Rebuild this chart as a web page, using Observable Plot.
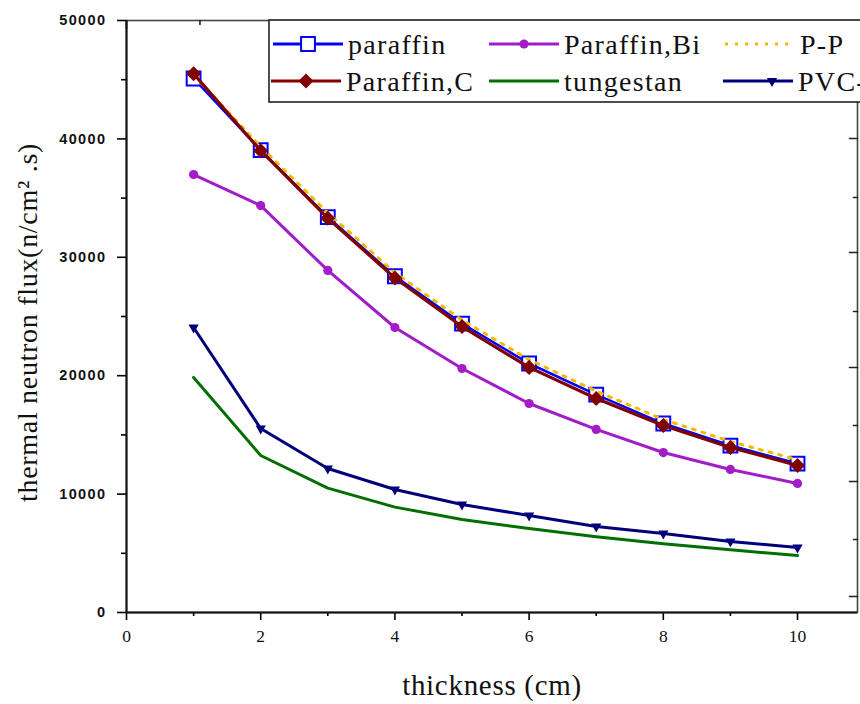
<!DOCTYPE html>
<html>
<head>
<meta charset="utf-8">
<script src="https://cdn.jsdelivr.net/npm/d3@7"></script>
<script src="https://cdn.jsdelivr.net/npm/@observablehq/plot@0.6"></script>
<style>
  html, body { margin: 0; padding: 0; background: #fff; overflow: hidden; }
  #wrap { position: relative; width: 860px; height: 704px; overflow: hidden; }
  #legend { position: absolute; left: 0; top: 0; pointer-events: none; }
</style>
</head>
<body>
<div id="wrap"></div>
<script>
// ---- data ----
const thickness  = [1, 2, 3, 4, 5, 6, 7, 8, 9, 10];
const paraffin   = [45100, 39050, 33400, 28400, 24400, 21030, 18400, 15960, 14100, 12580];
const paraffinBi = [36990, 34370, 28890, 24070, 20610, 17650, 15460, 13510, 12080, 10900];
const pp         = [45400, 39350, 33750, 28700, 24700, 21350, 18700, 16300, 14450, 12900];
const paraffinC  = [45500, 39000, 33300, 28250, 24150, 20700, 18070, 15790, 13940, 12420];
const tungestan  = [19850, 13260, 10500, 8900, 7850, 7100, 6400, 5800, 5300, 4810];
const pvc        = [24070, 15540, 12160, 10390, 9120, 8190, 7260, 6670, 6000, 5490];

const xMajorTicks = [0, 2, 4, 6, 8, 10];
const xMinorTicks = [1, 3, 5, 7, 9];
const yMajorTicks = [0, 10000, 20000, 30000, 40000, 50000];
const yMinorTicks = [5000, 15000, 25000, 35000, 45000];
const topMajorTicks = [0, 2.19, 4.38, 6.57, 8.76];
const topMinorTicks = [1.095, 3.285, 5.475, 7.665, 9.855];
const rightMajorTicks = [1350, 11060, 20690, 30400, 40030];
const rightMinorTicks = [6170, 15790, 25420, 35050, 44760];

const xLabel = "thickness (cm)";
const yLabel = "thermal neutron flux(n/cm\u00B2 .s)";

const seriesNames = ["paraffin", "Paraffin,Bi", "P-P", "Paraffin,C", "tungestan", "PVC-P"];
const colors = {
  "paraffin": "#0000ff",
  "Paraffin,Bi": "#a21cc8",
  "P-P": "#f5b800",
  "Paraffin,C": "#800000",
  "tungestan": "#006f00",
  "PVC-P": "#00007a"
};

const toRows = (name, vals) => thickness.map((t, i) => ({series: name, x: t, y: vals[i]}));
const dParaffin = toRows("paraffin", paraffin);
const dBi = toRows("Paraffin,Bi", paraffinBi);
const dPP = toRows("P-P", pp);
const dC = toRows("Paraffin,C", paraffinC);
const dW = toRows("tungestan", tungestan);
const dPVC = toRows("PVC-P", pvc);

const X_MAX = 10.894;
const tickShape = {draw(ctx, l) { ctx.moveTo(0, 0); ctx.lineTo(0, -l); }};

const serif = "'Liberation Serif', 'Times New Roman', serif";
const sans = "'Liberation Sans', Arial, sans-serif";

const chart = Plot.plot({
  width: 860,
  height: 704,
  marginLeft: 126,
  marginRight: 3,
  marginTop: 20,
  marginBottom: 92,
  style: {background: "#fff", color: "#000", overflow: "hidden"},
  x: {domain: [0, X_MAX]},
  y: {domain: [0, 50000]},
  marks: [
    Plot.frame({stroke: "#444", strokeWidth: 1.6}),
    // top ticks (inward)
    Plot.vector(topMajorTicks, {x: d => d, y: () => 50000, length: 8, rotate: 180, anchor: "start", shape: tickShape, stroke: "#222", strokeWidth: 1.6}),
    Plot.vector(topMinorTicks, {x: d => d, y: () => 50000, length: 4, rotate: 180, anchor: "start", shape: tickShape, stroke: "#222", strokeWidth: 1.6}),
    // right ticks (inward)
    Plot.vector(rightMajorTicks, {x: () => X_MAX, y: d => d, length: 8, rotate: -90, anchor: "start", shape: tickShape, stroke: "#222", strokeWidth: 1.6}),
    Plot.vector(rightMinorTicks, {x: () => X_MAX, y: d => d, length: 4, rotate: -90, anchor: "start", shape: tickShape, stroke: "#222", strokeWidth: 1.6}),
    // left / bottom axes
    Plot.axisY(yMajorTicks, {tickSize: 9, tickPadding: 11, tickFormat: d => String(d), label: null, strokeWidth: 1.6}),
    Plot.axisY(yMinorTicks, {tickSize: 5, tickFormat: () => "", label: null, strokeWidth: 1.6}),
    Plot.axisX(xMajorTicks, {tickSize: 8, tickPadding: 9, label: null, strokeWidth: 1.6}),
    Plot.axisX(xMinorTicks, {tickSize: 4, tickFormat: () => "", label: null, strokeWidth: 1.6}),
    Plot.ruleX([0], {stroke: "#111", strokeWidth: 2}),
    Plot.ruleY([0], {stroke: "#111", strokeWidth: 2}),
    // axis titles
    Plot.text([xLabel], {frameAnchor: "bottom", dy: 82, text: d => d, textAnchor: "middle", fontFamily: serif, fontSize: 29, fill: "#111"}),
    Plot.text([yLabel], {frameAnchor: "left", dx: -98, dy: 6, rotate: -90, textAnchor: "middle", text: d => d, fontFamily: serif, fontSize: 28, fill: "#111"}),
    // series
    Plot.line(dParaffin, {x: "x", y: "y", stroke: colors["paraffin"], strokeWidth: 2.5}),
    Plot.dot(dParaffin, {x: "x", y: "y", symbol: "square", r: 7.8, stroke: colors["paraffin"], fill: "#fff", strokeWidth: 2}),
    Plot.line(dBi, {x: "x", y: "y", stroke: colors["Paraffin,Bi"], strokeWidth: 3}),
    Plot.dot(dBi, {x: "x", y: "y", symbol: "circle", r: 4.6, fill: colors["Paraffin,Bi"]}),
    Plot.line(dPP, {x: "x", y: "y", stroke: colors["P-P"], strokeWidth: 3, strokeDasharray: "3,7"}),
    Plot.line(dC, {x: "x", y: "y", stroke: colors["Paraffin,C"], strokeWidth: 3.2}),
    Plot.dot(dC, {x: "x", y: "y", symbol: "diamond2", r: 6.8, fill: colors["Paraffin,C"]}),
    Plot.line(dW, {x: "x", y: "y", stroke: colors["tungestan"], strokeWidth: 3}),
    Plot.line(dPVC, {x: "x", y: "y", stroke: colors["PVC-P"], strokeWidth: 3}),
    Plot.dot(dPVC, {x: "x", y: "y", symbol: "triangle", r: 3.8, rotate: 180, fill: colors["PVC-P"]})
  ]
});

const wrap = document.getElementById("wrap");
wrap.appendChild(chart);

// tick label typography (identify numeric tick labels by position)
d3.select(chart).selectAll("text").each(function() {
  const t = this.textContent;
  if (!/^\d+$/.test(t)) return;
  const b = this.getBoundingClientRect();
  if (b.right <= 126) {
    d3.select(this).attr("font-family", sans).attr("font-weight", "bold")
      .attr("font-size", 14.5).attr("letter-spacing", "1.4px").attr("fill", "#111")
      .style("font-size", "14.5px").style("font-family", sans).style("font-weight", "bold");
  } else {
    d3.select(this).attr("font-family", serif).attr("font-size", 17.5).attr("fill", "#111")
      .style("font-size", "17.5px").style("font-family", serif);
  }
});
// axis titles spacing
d3.select(chart).selectAll("text").each(function() {
  const t = this.textContent;
  if (t === xLabel || t === yLabel) d3.select(this).attr("letter-spacing", "0.7px");
});

// ---- legend (drawn on top, clipped by the page edge like the reference) ----
const legend = d3.select(wrap).append("svg")
  .attr("id", "legend").attr("width", 860).attr("height", 704);
legend.append("rect")
  .attr("x", 269).attr("y", 20).attr("width", 640).attr("height", 82)
  .attr("fill", "#fff").attr("stroke", "#222").attr("stroke-width", 1.6);

const entries = [
  {name: "paraffin",   x0: 273, row: 0, marker: "square"},
  {name: "Paraffin,Bi", x0: 489, row: 0, marker: "circle"},
  {name: "P-P",        x0: 725, row: 0, marker: null, dash: "3,7"},
  {name: "Paraffin,C", x0: 271, row: 1, marker: "diamond2"},
  {name: "tungestan",  x0: 489, row: 1, marker: null},
  {name: "PVC-P",      x0: 723, row: 1, marker: "triangle"}
];
const rowY = [44, 81];
for (const e of entries) {
  const y = rowY[e.row];
  const c = colors[e.name];
  const x1 = e.x0 + 70;
  legend.append("line").attr("x1", e.x0).attr("x2", x1).attr("y1", y).attr("y2", y)
    .attr("stroke", c).attr("stroke-width", e.name === "Paraffin,C" ? 3.2 : 3)
    .attr("stroke-dasharray", e.dash || null);
  const mx = (e.x0 + x1) / 2 + (e.marker === "triangle" ? 14 : 0);
  if (e.marker === "square") {
    legend.append("path").attr("d", d3.symbol(d3.symbolSquare, Math.PI * 7.8 * 7.8)())
      .attr("transform", `translate(${mx},${y})`).attr("fill", "#fff").attr("stroke", c).attr("stroke-width", 2);
  } else if (e.marker === "circle") {
    legend.append("path").attr("d", d3.symbol(d3.symbolCircle, Math.PI * 4.6 * 4.6)())
      .attr("transform", `translate(${mx},${y})`).attr("fill", c);
  } else if (e.marker === "diamond2") {
    legend.append("path").attr("d", d3.symbol(d3.symbolDiamond2, Math.PI * 6.8 * 6.8)())
      .attr("transform", `translate(${mx},${y})`).attr("fill", c);
  } else if (e.marker === "triangle") {
    legend.append("path").attr("d", d3.symbol(d3.symbolTriangle, Math.PI * 3.8 * 3.8)())
      .attr("transform", `translate(${mx},${y}) rotate(180)`).attr("fill", c);
  }
  legend.append("text").attr("x", x1 + 5).attr("y", y).attr("dy", "0.35em")
    .attr("font-family", serif).attr("font-size", 28).attr("letter-spacing", "1.3px").attr("fill", "#111")
    .text(e.name);
}
</script>
</body>
</html>
